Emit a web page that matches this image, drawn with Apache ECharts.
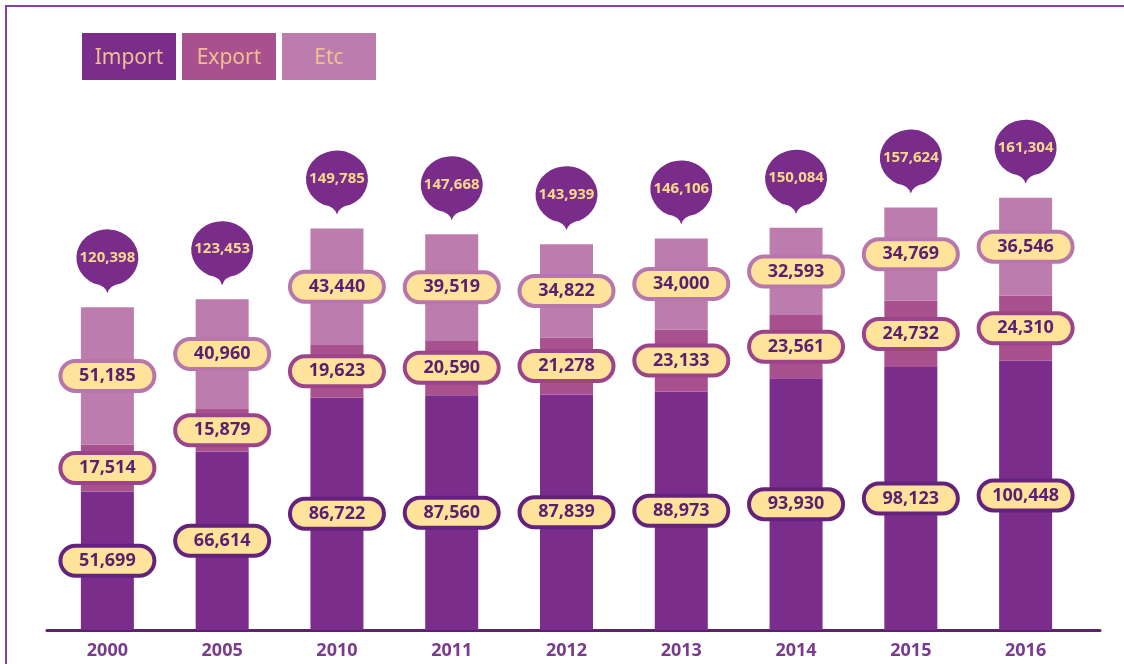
<!DOCTYPE html>
<html>
<head>
<meta charset="utf-8">
<script src="https://cdn.jsdelivr.net/npm/echarts@6/dist/echarts.min.js"></script>
<style>
  html, body { margin: 0; padding: 0; background: #ffffff; }
  #chart { width: 1124px; height: 664px; }
</style>
</head>
<body>
<div id="chart"></div>
<script>
const categories = ['2000', '2005', '2010', '2011', '2012', '2013', '2014', '2015', '2016'];
const seriesNames = ['Import', 'Export', 'Etc'];
const importVals = [51699, 66614, 86722, 87560, 87839, 88973, 93930, 98123, 100448];
const exportVals = [17514, 15879, 19623, 20590, 21278, 23133, 23561, 24732, 24310];
const etcVals = [51185, 40960, 43440, 39519, 34822, 34000, 32593, 34769, 36546];
const totalVals = [120398, 123453, 149785, 147668, 143939, 146106, 150084, 157624, 161304];

const barColors = ['#7B2D8C', '#A9508F', '#BC7DAE'];
const pillBorders = ['#65227D', '#9C4489', '#B777AB'];
const FONT = 'Noto Sans';
const fmt = v => Number(v).toLocaleString('en-US');

const balloonPath = 'path://M30,63 Q28,55 17,53.3 A30,28 0 1 1 43,53.3 Q32,55 30,63 Z';

function barSeries(name, data, idx) {
  return {
    name: name,
    type: 'bar',
    stack: 'total',
    barWidth: 53,
    data: data,
    itemStyle: { color: barColors[idx] },
    label: {
      show: true,
      position: 'inside',
      formatter: p => fmt(p.value),
      backgroundColor: '#FFE39B',
      borderColor: pillBorders[idx],
      borderWidth: 4,
      borderRadius: 15,
      width: 66,
      align: 'center',
      padding: [3, 12],
      lineHeight: 20,
      fontSize: 18,
      fontWeight: 'bold',
      fontFamily: FONT,
      color: '#5A1F6E'
    },
    emphasis: { disabled: true }
  };
}

const legendKeys = { Import: 'imp', Export: 'exp', Etc: 'etc' };
const legendRichBase = {
  width: 94, height: 43, lineHeight: 43, padding: [4, 0, 0, 0], align: 'center',
  fontSize: 21, fontFamily: FONT, color: '#EFC08F'
};

const chart = echarts.init(document.getElementById('chart'), null, { renderer: 'canvas' });
chart.setOption({
  animation: false,
  backgroundColor: '#ffffff',
  legend: {
    left: 72,
    top: 28,
    itemGap: 1,
    itemWidth: 0,
    itemHeight: 0,
    icon: 'rect',
    selectedMode: false,
    data: seriesNames,
    formatter: name => '{' + legendKeys[name] + '|' + name + '}',
    textStyle: {
      rich: {
        imp: Object.assign({}, legendRichBase, { backgroundColor: barColors[0] }),
        exp: Object.assign({}, legendRichBase, { backgroundColor: barColors[1] }),
        etc: Object.assign({}, legendRichBase, { backgroundColor: barColors[2] })
      }
    }
  },
  grid: [
    { left: 50, right: 41, top: 94, bottom: 34 },
    { left: 47, right: 24, top: 94, bottom: 34 }
  ],
  xAxis: [
    {
      type: 'category',
      gridIndex: 0,
      data: categories,
      axisLine: { show: false },
      axisTick: { show: false },
      axisLabel: {
        margin: 12,
        fontSize: 18,
        fontWeight: 'bold',
        fontFamily: FONT,
        color: '#7A3A8D'
      }
    },
    {
      type: 'value',
      gridIndex: 1,
      min: 0, max: 1,
      axisLine: { show: true, onZero: false, lineStyle: { color: '#5C2271', width: 3 } },
      axisTick: { show: false },
      axisLabel: { show: false },
      splitLine: { show: false }
    }
  ],
  yAxis: [
    { type: 'value', gridIndex: 0, min: 0, max: 200000, show: false, splitLine: { show: false } },
    { type: 'value', gridIndex: 1, min: 0, max: 1, show: false, splitLine: { show: false } }
  ],
  graphic: [
    {
      type: 'polyline',
      shape: { points: [[6, 664], [6, 6], [1124, 6]] },
      style: { stroke: '#8A3EA3', lineWidth: 2, fill: null },
      silent: true
    }
  ],
  series: [
    barSeries(seriesNames[0], importVals, 0),
    barSeries(seriesNames[1], exportVals, 1),
    barSeries(seriesNames[2], etcVals, 2),
    {
      name: 'Total',
      type: 'scatter',
      data: totalVals,
      symbol: balloonPath,
      symbolSize: [62, 64],
      symbolOffset: [0, -46],
      itemStyle: { color: '#7A2C8B', opacity: 1 },
      z: 5,
      label: {
        show: true,
        position: 'inside',
        offset: [0, -4],
        formatter: p => fmt(p.value),
        fontSize: 15,
        fontWeight: 'bold',
        fontFamily: FONT,
        color: '#F7D98B'
      },
      emphasis: { disabled: true }
    }
  ]
});
</script>
</body>
</html>
